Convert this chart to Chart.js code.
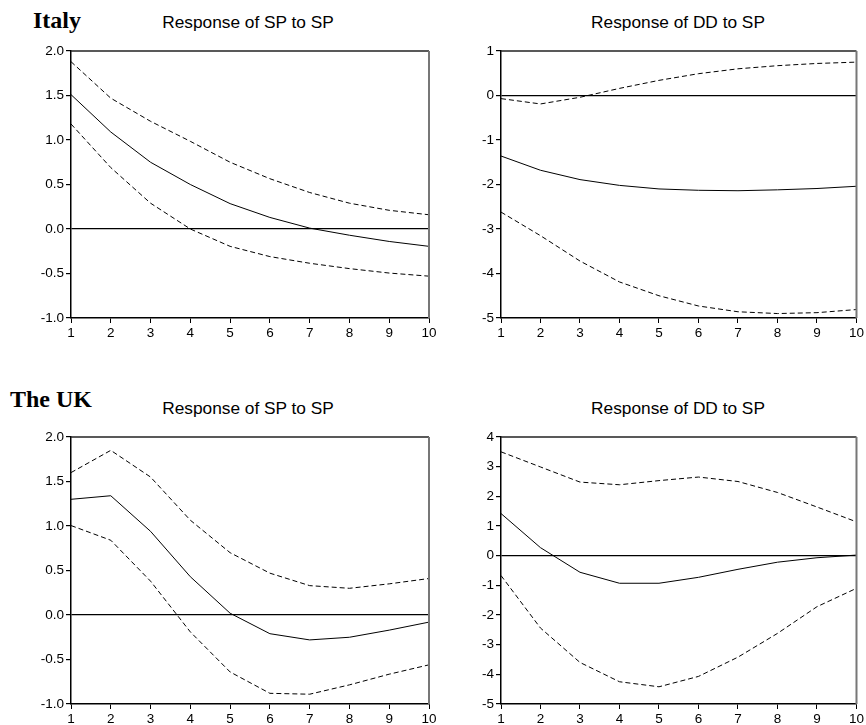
<!DOCTYPE html>
<html>
<head>
<meta charset="utf-8">
<script src="https://cdn.jsdelivr.net/npm/chart.js@4/dist/chart.umd.min.js"></script>
<style>
  body { margin: 0; background: #fff; }
  #wrap { position: relative; width: 866px; height: 725px; overflow: hidden; }
  .panel { position: absolute; }
  .country { position: absolute; font-family: "Liberation Serif", serif; font-weight: bold; font-size: 24px; line-height: 24px; color: #000; }
  .title { position: absolute; width: 358px; text-align: center; font-family: "Liberation Sans", Arial, sans-serif; font-size: 17.3px; line-height: 20px; color: #000; white-space: nowrap; }
</style>
</head>
<body>
<div id="wrap">
  <div class="country" style="left:33px; top:8px;">Italy</div>
  <div class="country" style="left:10px; top:387px;">The UK</div>
  <div class="title" style="left:69px; top:12px;">Response of SP to SP</div>
  <div class="title" style="left:499px; top:12px;">Response of DD to SP</div>
  <div class="title" style="left:69px; top:398px;">Response of SP to SP</div>
  <div class="title" style="left:499px; top:398px;">Response of DD to SP</div>
  <canvas class="panel" id="italySp" width="440" height="350" style="left:0; top:0;"></canvas>
  <canvas class="panel" id="italyDd" width="426" height="350" style="left:440px; top:0;"></canvas>
  <canvas class="panel" id="ukSp" width="440" height="355" style="left:0; top:370px;"></canvas>
  <canvas class="panel" id="ukDd" width="426" height="355" style="left:440px; top:370px;"></canvas>
</div>
<script>
// horizon (periods after the shock)
var steps = ['1', '2', '3', '4', '5', '6', '7', '8', '9', '10'];

// Italy - response of SP to SP
var italySpMid = [1.51, 1.09, 0.75, 0.50, 0.285, 0.13, 0.01, -0.07, -0.14, -0.195];
var italySpUp  = [1.88, 1.47, 1.21, 0.985, 0.75, 0.565, 0.41, 0.29, 0.21, 0.16];
var italySpLow = [1.18, 0.69, 0.29, 0.0, -0.195, -0.31, -0.385, -0.445, -0.495, -0.53];

// Italy - response of DD to SP
var italyDdMid = [-1.36, -1.68, -1.89, -2.02, -2.10, -2.13, -2.14, -2.12, -2.09, -2.04];
var italyDdUp  = [-0.07, -0.19, -0.04, 0.16, 0.34, 0.49, 0.60, 0.67, 0.72, 0.75];
var italyDdLow = [-2.62, -3.15, -3.72, -4.19, -4.50, -4.73, -4.86, -4.90, -4.88, -4.81];

// The UK - response of SP to SP
var ukSpMid = [1.30, 1.34, 0.94, 0.43, 0.02, -0.21, -0.28, -0.25, -0.17, -0.08];
var ukSpUp  = [1.60, 1.85, 1.55, 1.065, 0.70, 0.47, 0.33, 0.30, 0.35, 0.41];
var ukSpLow = [1.005, 0.84, 0.38, -0.19, -0.64, -0.88, -0.89, -0.785, -0.665, -0.56];

// The UK - response of DD to SP
var ukDdMid = [1.42, 0.27, -0.56, -0.93, -0.93, -0.73, -0.46, -0.22, -0.07, 0.02];
var ukDdUp  = [3.50, 2.99, 2.48, 2.39, 2.53, 2.65, 2.50, 2.13, 1.64, 1.14];
var ukDdLow = [-0.67, -2.44, -3.60, -4.25, -4.42, -4.07, -3.42, -2.62, -1.72, -1.10];

var tickFont = { family: "'Liberation Sans', Arial, sans-serif", size: 13.5 };

// box round the plot: dark top, grey right side
var frame = {
  id: 'frame',
  afterDatasetsDraw: function (chart) {
    var a = chart.chartArea, c = chart.ctx;
    c.save();
    c.strokeStyle = '#222';
    c.lineWidth = 1.5;
    c.beginPath();
    c.moveTo(a.left, a.top);
    c.lineTo(a.right, a.top);
    c.stroke();
    c.strokeStyle = '#777';
    c.lineWidth = 2;
    c.beginPath();
    c.moveTo(a.right, a.top);
    c.lineTo(a.right, a.bottom);
    c.stroke();
    c.restore();
  }
};

function line(data, dashed) {
  return {
    data: data,
    borderColor: '#000',
    borderWidth: 1,
    borderDash: dashed ? [5, 3] : [],
    pointRadius: 0,
    tension: 0,
    fill: false
  };
}

function panel(id, padTop, mid, up, low, yMin, yMax, yStep, decimals, yWidth, xHeight, padRight) {
  new Chart(document.getElementById(id), {
    type: 'line',
    data: {
      labels: steps,
      datasets: [line(up, true), line(mid, false), line(low, true)]
    },
    options: {
      responsive: false,
      animation: false,
      layout: { padding: { left: 0, right: padRight, top: padTop, bottom: 0 } },
      plugins: {
        legend: { display: false },
        tooltip: { enabled: false }
      },
      scales: {
        x: {
          offset: false,
          grid: { drawOnChartArea: false, tickLength: 5, tickColor: '#000' },
          border: { color: '#000', width: 1.5 },
          ticks: { color: '#000', font: tickFont, padding: 2, maxRotation: 0, autoSkip: false },
          afterFit: function (s) { s.height = xHeight; }
        },
        y: {
          min: yMin,
          max: yMax,
          grid: {
            color: function (c) { return c.tick && c.tick.value === 0 ? '#000' : 'rgba(0,0,0,0)'; },
            lineWidth: 1.2,
            tickLength: 5,
            tickColor: '#000'
          },
          border: { color: '#000', width: 1.5 },
          ticks: {
            stepSize: yStep,
            color: '#000',
            font: tickFont,
            padding: 2,
            callback: function (v) { return v.toFixed(decimals); }
          },
          afterFit: function (s) { s.width = yWidth; }
        }
      }
    },
    plugins: [frame]
  });
}

panel('italySp', 51, italySpMid, italySpUp, italySpLow, -1, 2, 0.5, 1, 71, 32, 11);
panel('italyDd', 51, italyDdMid, italyDdUp, italyDdLow, -5, 1, 1, 0, 61, 32, 8);
panel('ukSp', 67, ukSpMid, ukSpUp, ukSpLow, -1, 2, 0.5, 1, 71, 21, 11);
panel('ukDd', 67, ukDdMid, ukDdUp, ukDdLow, -5, 4, 1, 0, 61, 21, 8);
</script>
</body>
</html>
